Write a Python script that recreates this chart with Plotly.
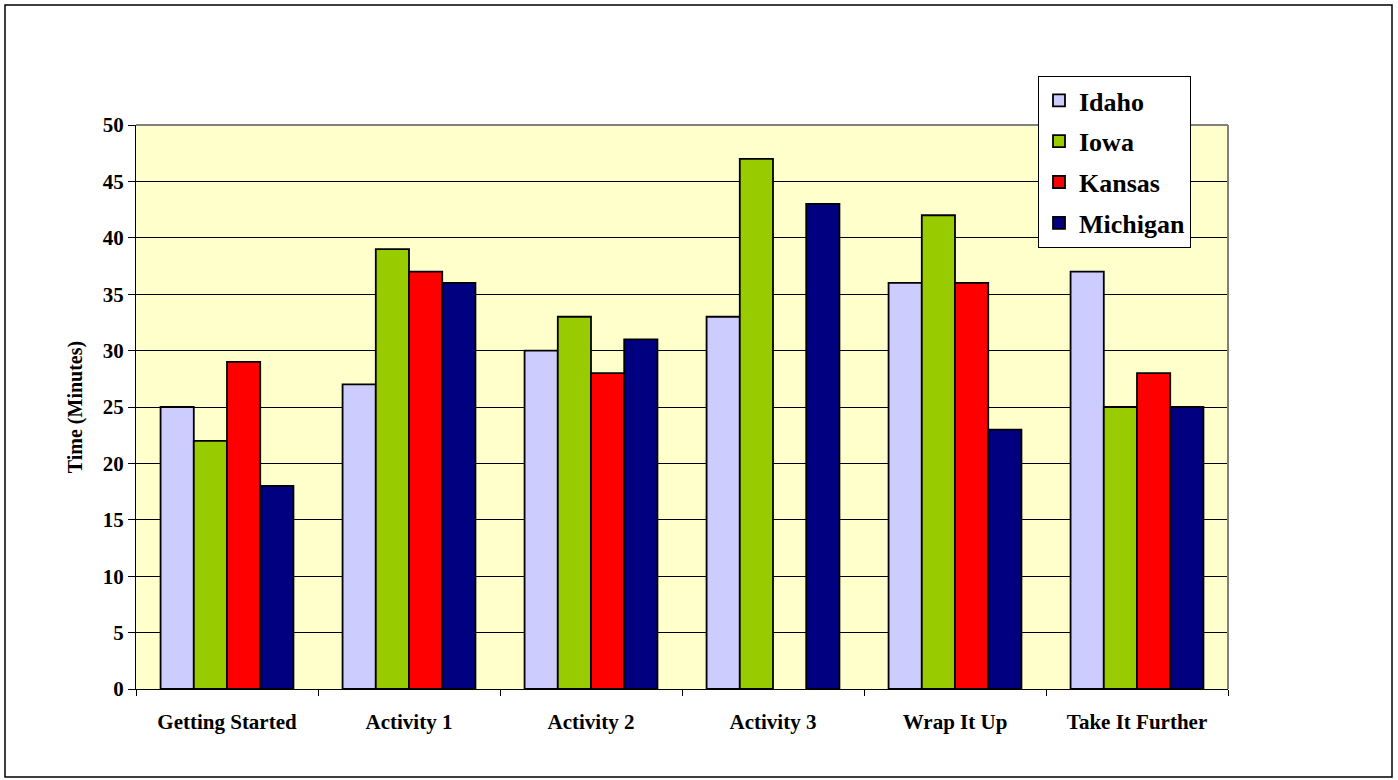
import plotly.graph_objects as go

categories = ["Getting Started", "Activity 1", "Activity 2", "Activity 3", "Wrap It Up", "Take It Further"]
idaho = [25, 27, 30, 33, 36, 37]
iowa = [22, 39, 33, 47, 42, 25]
kansas = [29, 37, 28, None, 36, 28]
michigan = [18, 36, 31, 43, 23, 25]
y_ticks = [0, 5, 10, 15, 20, 25, 30, 35, 40, 45, 50]

series = [("Idaho", idaho, "#CCCCFF"), ("Iowa", iowa, "#99CC00"),
          ("Kansas", kansas, "#FF0000"), ("Michigan", michigan, "#000080")]

W, H = 1398, 780
ml, mr, mt, mb = 136, 170, 125, 91
pw, ph = W - ml - mr, H - mt - mb

fig = go.Figure()
for name, vals, col in series:
    fig.add_trace(go.Bar(name=name, x=categories, y=vals, marker_color=col,
                         marker_line_color="black", marker_line_width=1.8,
                         legendgroup=name))

font = "Liberation Serif, Times New Roman, serif"
fig.update_layout(
    width=W, height=H,
    margin=dict(l=ml, r=mr, t=mt, b=mb),
    paper_bgcolor="white", plot_bgcolor="#FFFFCC",
    barmode="group", bargap=0.27, bargroupgap=0,
    font=dict(family=font, color="black", weight="bold"),
    showlegend=True,
    legend=dict(x=(1038 - ml) / pw, y=(H - mb - 76) / ph, xanchor="left", yanchor="top",
                bgcolor="white", bordercolor="black", borderwidth=1,
                font=dict(family=font, size=26, color="black", weight="bold"),
                tracegroupgap=4, traceorder="grouped", itemwidth=30),
    xaxis=dict(showline=True, linecolor="black", linewidth=1, ticks="outside",
               tickson="boundaries", ticklen=6, tickcolor="black",
               ticklabelstandoff=14,
               tickfont=dict(family=font, size=21, color="black", weight="bold"),
               showgrid=False),
    yaxis=dict(range=[0, 50], tickvals=y_ticks, showline=True, linecolor="black",
               linewidth=1, ticks="outside", ticklen=7, tickcolor="black",
               showgrid=True, gridcolor="black", gridwidth=1, zeroline=False,
               tickfont=dict(family=font, size=21, color="black", weight="bold"),
               title=dict(text="Time (Minutes)",
                          font=dict(family=font, size=20, color="black", weight="bold"),
                          standoff=14)),
)

# plot area top/right gray border
fig.add_shape(type="line", xref="paper", yref="paper", x0=0, x1=1, y0=1, y1=1,
              line=dict(color="#808080", width=2))
fig.add_shape(type="line", xref="paper", yref="paper", x0=1, x1=1, y0=0, y1=1,
              line=dict(color="#808080", width=2))

# outer chart border
def px_x(p):
    return (p - ml) / pw

def px_y(p):
    return (H - mb - p) / ph

fig.add_shape(type="rect", xref="paper", yref="paper",
              x0=px_x(5), x1=px_x(1392), y0=px_y(777), y1=px_y(5),
              line=dict(color="black", width=1.5), fillcolor="rgba(0,0,0,0)", layer="below")

fig.write_html("out.html", config={"displayModeBar": False},
               post_script="document.body.style.margin='0';document.body.style.overflow='hidden';")
